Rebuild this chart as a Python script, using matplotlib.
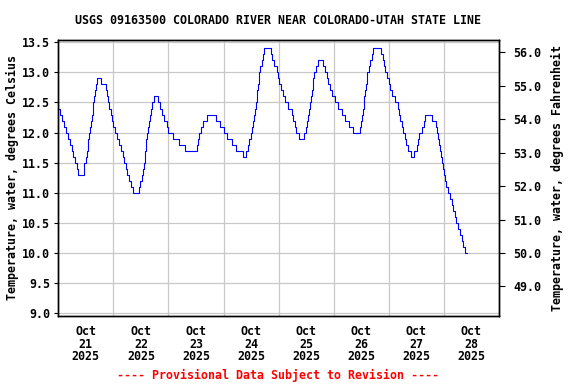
import matplotlib
matplotlib.use("Agg")
import matplotlib.pyplot as plt
import numpy as np

# Step-change readings: hours after Oct 21 2025 00:00, temperature (deg C)
hours = [0.0, 0.6, 1.5, 2.5, 3.4, 4.4, 5.1, 5.8, 6.6, 7.3, 8.0, 8.7,
         11.0, 11.4, 12.0, 12.5, 12.8, 13.1, 13.5, 14.0, 14.3, 14.6, 14.9, 15.3, 15.6, 16.0, 16.4, 17.0,
         18.8, 20.6, 21.4, 21.8, 22.3, 22.9, 23.3, 24.0, 24.7, 25.5, 26.5, 27.4, 28.1, 28.7, 29.3, 29.8, 30.6, 31.6, 32.7,
         35.0, 35.8, 36.4, 36.8, 37.3, 37.6, 37.8, 38.1, 38.4, 38.7, 39.1, 39.6, 40.0, 40.5, 41.0, 41.5,
         43.6, 44.4, 45.1, 46.0, 47.3, 48.0, 49.8, 52.6, 55.0,
         60.4, 60.7, 61.1, 62.1, 62.9, 65.0,
         68.7, 70.3, 72.0, 73.7, 75.7, 77.3, 80.5,
         81.9, 82.5, 83.1, 83.8, 84.4, 84.8, 85.3, 85.7, 86.1, 86.4, 86.7, 87.0, 87.3, 87.6, 88.0, 88.6, 89.0, 89.5,
         92.5, 93.3, 94.0, 95.3, 95.7, 96.3, 96.9, 97.8, 98.9, 100.1, 101.6, 102.1, 103.0, 103.6, 104.7,
         107.0, 107.8, 108.3, 108.8, 109.3, 109.7, 110.2, 110.5, 110.8, 111.1, 111.6, 112.3, 113.2,
         115.2, 116.4, 117.1, 117.6, 118.3, 119.3, 120.6, 121.8, 123.6, 125.0, 126.5, 128.6,
         131.6, 132.0, 132.3, 132.7, 133.1, 133.4, 133.7, 134.0, 134.3, 134.6, 135.2, 135.7, 136.5, 137.2,
         140.5, 141.3, 141.7, 142.3, 143.3, 144.0, 144.6, 145.5, 146.6, 147.8, 148.4, 148.9, 149.6, 150.3, 151.0, 151.7, 152.5, 153.5,
         154.9, 156.1, 156.7, 157.3, 158.6, 159.2, 159.7,
         162.7, 164.4, 164.8, 165.4, 165.9, 166.3, 166.6, 167.0, 167.4, 167.9, 168.5, 169.0, 169.6, 170.5, 171.4, 172.1, 172.7,
         173.4, 174.3, 174.8, 175.7, 176.4, 177.2, 178.2]
temps_c = [12.4, 12.3, 12.2, 12.1, 12.0, 11.9, 11.8, 11.7, 11.6, 11.5, 11.4, 11.3,
           11.4, 11.5, 11.6, 11.7, 11.8, 11.9, 12.0, 12.1, 12.2, 12.3, 12.4, 12.5, 12.6, 12.7, 12.8, 12.9,
           12.8, 12.7, 12.6, 12.5, 12.4, 12.3, 12.2, 12.1, 12.0, 11.9, 11.8, 11.7, 11.6, 11.5, 11.4, 11.3, 11.2, 11.1, 11.0,
           11.1, 11.2, 11.3, 11.4, 11.5, 11.6, 11.7, 11.8, 11.9, 12.0, 12.1, 12.2, 12.3, 12.4, 12.5, 12.6,
           12.5, 12.4, 12.3, 12.2, 12.1, 12.0, 11.9, 11.8, 11.7,
           11.8, 11.9, 12.0, 12.1, 12.2, 12.3,
           12.2, 12.1, 12.0, 11.9, 11.8, 11.7, 11.6,
           11.7, 11.8, 11.9, 12.0, 12.1, 12.2, 12.3, 12.4, 12.5, 12.6, 12.7, 12.8, 12.9, 13.0, 13.1, 13.2, 13.3, 13.4,
           13.3, 13.2, 13.1, 13.0, 12.9, 12.8, 12.7, 12.6, 12.5, 12.4, 12.3, 12.2, 12.1, 12.0, 11.9,
           12.0, 12.1, 12.2, 12.3, 12.4, 12.5, 12.6, 12.7, 12.8, 12.9, 13.0, 13.1, 13.2,
           13.1, 13.0, 12.9, 12.8, 12.7, 12.6, 12.5, 12.4, 12.3, 12.2, 12.1, 12.0,
           12.1, 12.2, 12.3, 12.4, 12.5, 12.6, 12.7, 12.8, 12.9, 13.0, 13.1, 13.2, 13.3, 13.4,
           13.3, 13.2, 13.1, 13.0, 12.9, 12.8, 12.7, 12.6, 12.5, 12.4, 12.3, 12.2, 12.1, 12.0, 11.9, 11.8, 11.7, 11.6,
           11.7, 11.8, 11.9, 12.0, 12.1, 12.2, 12.3,
           12.2, 12.1, 12.0, 11.9, 11.8, 11.7, 11.6, 11.5, 11.4, 11.3, 11.2, 11.1, 11.0, 10.9, 10.8, 10.7, 10.6,
           10.5, 10.4, 10.3, 10.2, 10.1, 10.0, 10.0]

day_labels = ["Oct\n21\n2025", "Oct\n22\n2025", "Oct\n23\n2025", "Oct\n24\n2025",
              "Oct\n25\n2025", "Oct\n26\n2025", "Oct\n27\n2025", "Oct\n28\n2025"]
c_ticks = [9.0, 9.5, 10.0, 10.5, 11.0, 11.5, 12.0, 12.5, 13.0, 13.5]
f_ticks = [49.0, 50.0, 51.0, 52.0, 53.0, 54.0, 55.0, 56.0]

title = "USGS 09163500 COLORADO RIVER NEAR COLORADO-UTAH STATE LINE"
footer = "---- Provisional Data Subject to Revision ----"

FONT = "DejaVu Sans Mono"
FS = 8.4

fig = plt.figure(figsize=(5.76, 3.84), dpi=100)
W, H = 576, 384
ax = fig.add_axes([58.3 / W, 1 - 315.7 / H, (499 - 58.3) / W, (315.7 - 39.7) / H])

days = np.array(hours) / 24.0
ax.plot(days, temps_c, drawstyle="steps-post", color="#0000ff", lw=0.8, zorder=3)

ylo, yhi = 8.958, 13.543
ax.set_xlim(0, 8)
ax.set_ylim(ylo, yhi)

ax.set_xticks([i + 0.5 for i in range(8)])
ax.set_xticklabels(day_labels, fontfamily=FONT, fontweight="bold", fontsize=FS, linespacing=0.95)
ax.set_xticks(list(range(1, 8)), minor=True)
ax.tick_params(axis="x", which="both", length=0, pad=7)

ax.set_yticks(c_ticks)
ax.set_yticklabels([f"{v:.1f}" for v in c_ticks], fontfamily=FONT, fontweight="bold", fontsize=FS)
ax.tick_params(axis="y", length=3, width=0.8, pad=3, direction="out")

ax.grid(True, which="minor", axis="x", color="#c8c8c8", lw=0.9)
ax.grid(True, which="major", axis="y", color="#c8c8c8", lw=0.9)
ax.set_axisbelow(True)
for s in ax.spines.values():
    s.set_linewidth(1.0)
    s.set_color("black")

ax.set_ylabel("Temperature, water, degrees Celsius", fontfamily=FONT, fontweight="bold",
              fontsize=FS, labelpad=2)

ax2 = ax.twinx()
ax2.set_ylim(ylo * 1.8 + 32, yhi * 1.8 + 32)
ax2.set_yticks(f_ticks)
ax2.set_yticklabels([f"{v:.1f}" for v in f_ticks], fontfamily=FONT, fontweight="bold", fontsize=FS)
ax2.tick_params(axis="y", length=4, width=0.8, pad=6, direction="out")
ax2.set_ylabel("Temperature, water, degrees Fahrenheit", fontfamily=FONT, fontweight="bold",
               fontsize=FS, labelpad=7)
for s in ax2.spines.values():
    s.set_linewidth(1.0)

fig.text(278 / W, 1 - 20 / H, title, ha="center", va="center", fontfamily=FONT,
         fontweight="bold", fontsize=FS)
fig.text(278 / W, 1 - 375 / H, footer, ha="center", va="center", fontfamily=FONT,
         fontweight="bold", fontsize=FS, color="#ff0000")

fig.savefig("out.png", dpi=100)
